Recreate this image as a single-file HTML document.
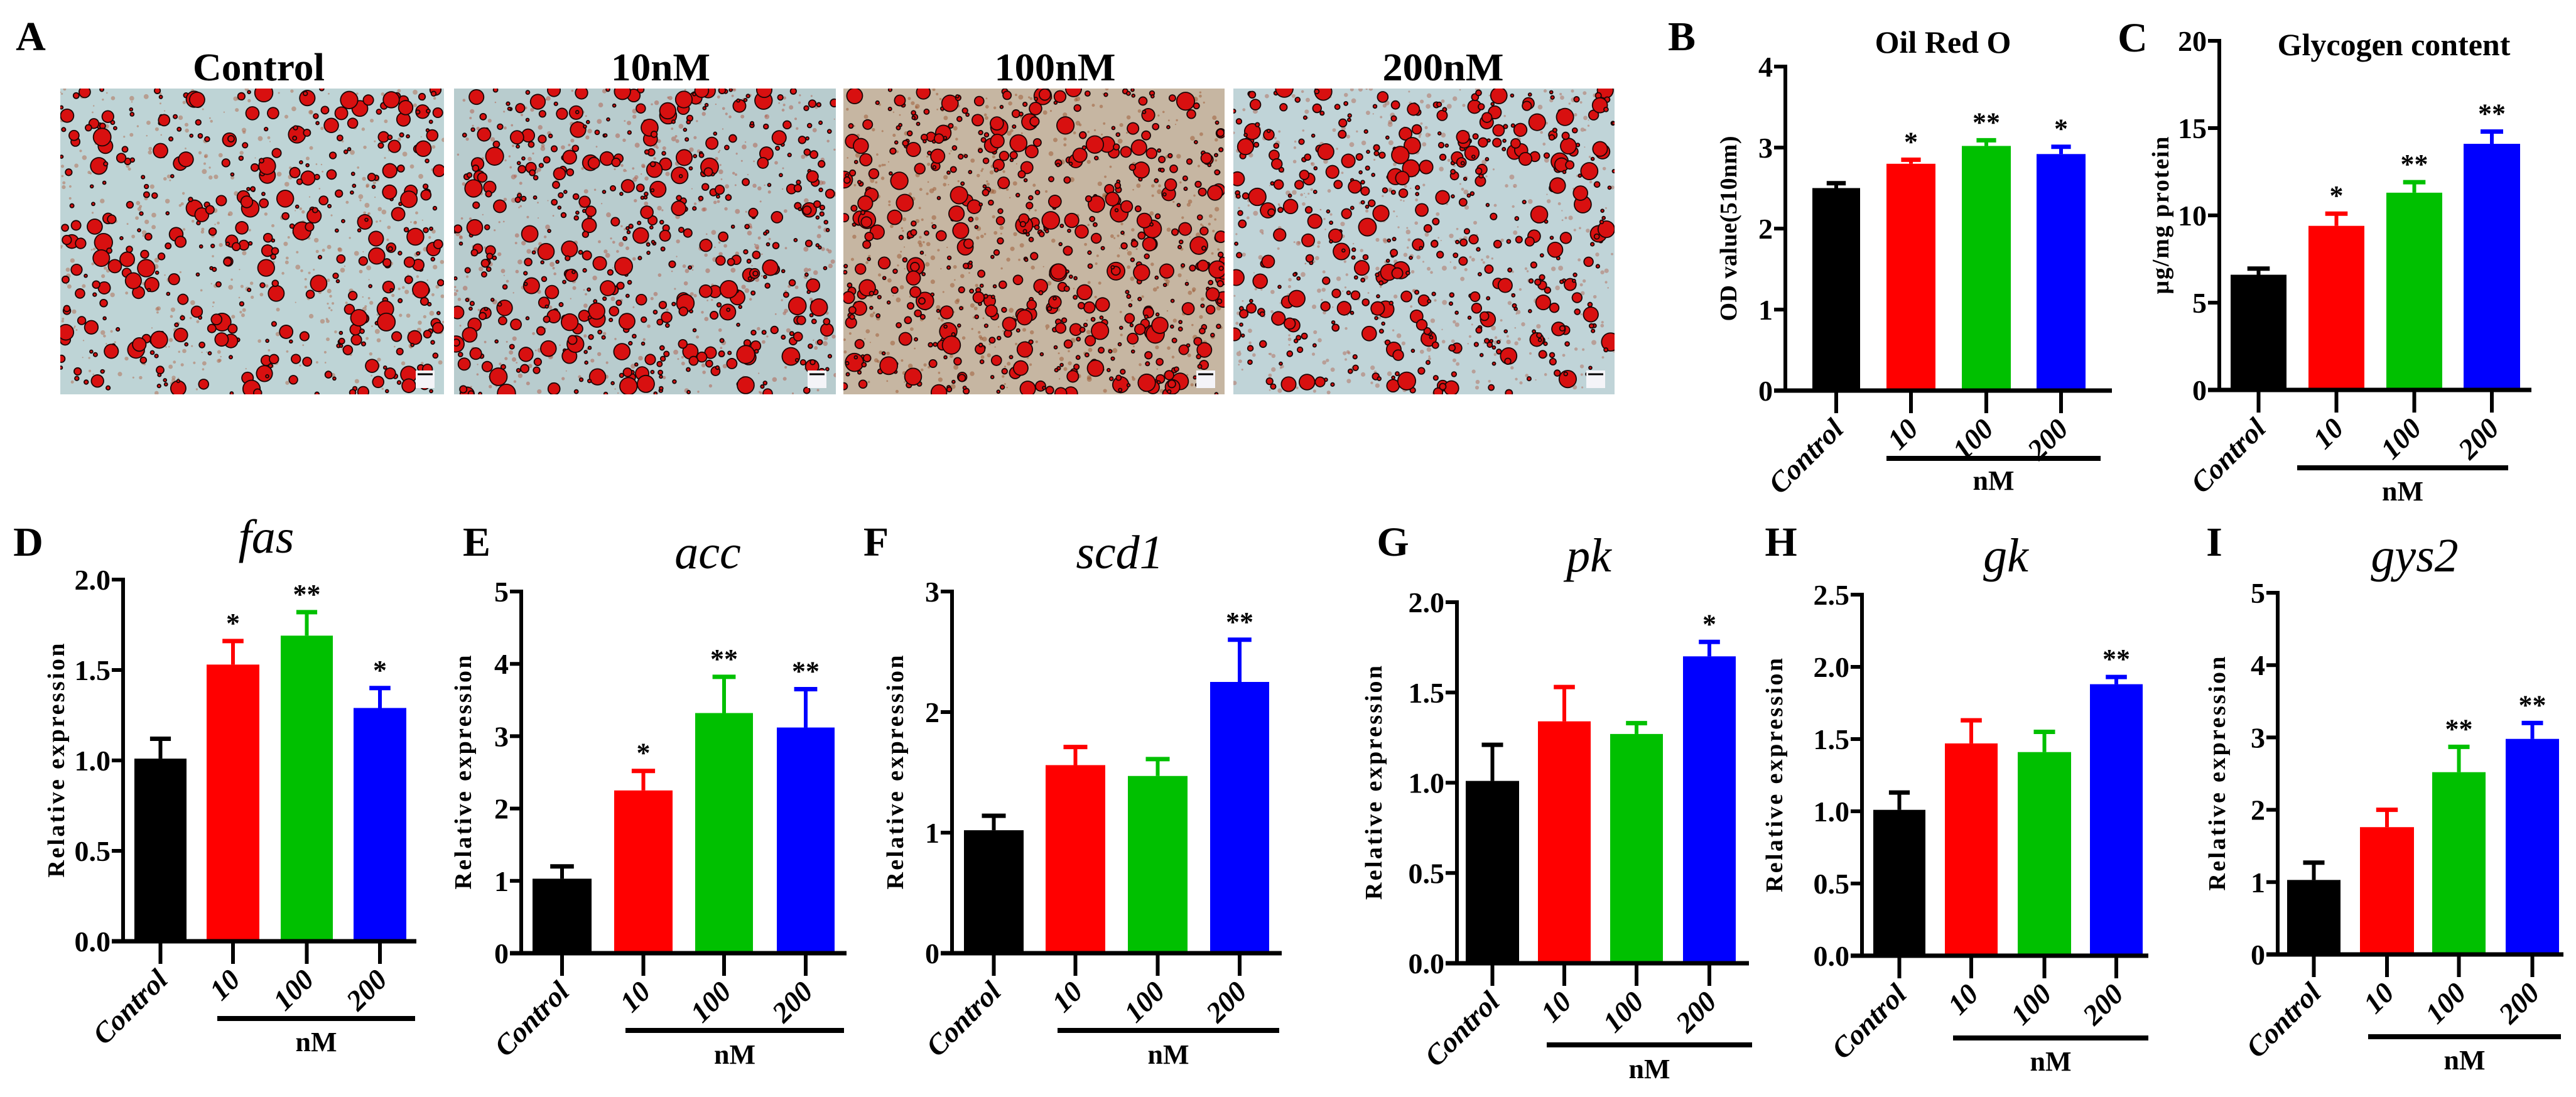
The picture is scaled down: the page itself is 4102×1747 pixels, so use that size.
<!DOCTYPE html>
<html><head><meta charset="utf-8"><style>
html,body{margin:0;padding:0;background:#fff;}
svg text{font-family:"Liberation Serif","Nimbus Roman","Tinos","Times New Roman",Times,"DejaVu Serif",serif;}
</style></head><body>
<svg id="fig" width="4102" height="1742" viewBox="0 0 4102 1742" xmlns="http://www.w3.org/2000/svg">
<defs>
<clipPath id="cp0"><rect x="96" y="141" width="611" height="487"/></clipPath>
<clipPath id="cp1"><rect x="723" y="141" width="608" height="487"/></clipPath>
<clipPath id="cp2"><rect x="1343" y="141" width="607" height="487"/></clipPath>
<clipPath id="cp3"><rect x="1964" y="141" width="607" height="487"/></clipPath>
</defs>
<g id="photos"></g>
<g id="charts"></g>
</svg>
<script>
const categories = ['Control','10','100','200'];
const colors = ['#000000','#ff0000','#00c000','#0000ff'];
const oilValues = [2.5, 2.8, 3.02, 2.92];
const oilErrors = [0.06, 0.05, 0.07, 0.09];
const oilStars = ['', '*', '**', '*'];
const glyValues = [6.6, 9.4, 11.3, 14.1];
const glyErrors = [0.35, 0.7, 0.6, 0.7];
const glyStars = ['', '*', '**', '**'];
const fasValues = [1.01, 1.53, 1.69, 1.29];
const fasErrors = [0.11, 0.13, 0.13, 0.11];
const fasStars = ['', '*', '**', '*'];
const accValues = [1.03, 2.25, 3.32, 3.12];
const accErrors = [0.17, 0.27, 0.5, 0.53];
const accStars = ['', '*', '**', '**'];
const scdValues = [1.02, 1.56, 1.47, 2.25];
const scdErrors = [0.12, 0.15, 0.14, 0.35];
const scdStars = ['', '', '', '**'];
const pkValues = [1.01, 1.34, 1.27, 1.70];
const pkErrors = [0.2, 0.19, 0.06, 0.08];
const pkStars = ['', '', '', '*'];
const gkValues = [1.01, 1.47, 1.41, 1.88];
const gkErrors = [0.12, 0.16, 0.14, 0.05];
const gkStars = ['', '', '', '**'];
const gysValues = [1.03, 1.76, 2.52, 2.98];
const gysErrors = [0.24, 0.24, 0.35, 0.22];
const gysStars = ['', '', '**', '**'];
const oilTicks = ['0','1','2','3','4'];
const glyTicks = ['0','5','10','15','20'];
const fasTicks = ['0.0','0.5','1.0','1.5','2.0'];
const accTicks = ['0','1','2','3','4','5'];
const scdTicks = ['0','1','2','3'];
const pkTicks = ['0.0','0.5','1.0','1.5','2.0'];
const gkTicks = ['0.0','0.5','1.0','1.5','2.0','2.5'];
const gysTicks = ['0','1','2','3','4','5'];

const NS = 'http://www.w3.org/2000/svg';
function mk(parent, tag, attrs, text){
  const e = document.createElementNS(NS, tag);
  for (const k in attrs) e.setAttribute(k, attrs[k]);
  if (text !== undefined) e.textContent = text;
  parent.appendChild(e);
  return e;
}
const root = document.getElementById('charts');

const letters = [['A',49,80],['B',2678,80],['C',3396,82],['D',45,885],['E',759,885],['F',1395,885],['G',2218,885],['H',2836,885],['I',3526,885]];
letters.forEach(l=>{
  const t = mk(root,'text',{x:l[1],y:l[2],'font-size':66,'font-weight':'bold','text-anchor':'middle'},l[0]);
  
  
});

[['Control',412,210],['10nM',1052,158],['100nM',1680,193],['200nM',2298,193]].forEach(p=>{
  const t = mk(root,'text',{x:p[1],y:128,'font-size':62,'font-weight':'bold','text-anchor':'middle',textLength:p[2],lengthAdjust:'spacingAndGlyphs'},p[0]);
  
  
});

const panels = [
 {id:'oil', vals:oilValues, errs:oilErrors, stars:oilStars, ticks:oilTicks, max:4, ax:2843, y0:622, yTop:106, xEnd:3363, bars:[[2886,2962],[3004,3082],[3124,3202],[3243,3321]], title:'Oil Red O', titleX:3094, titleY:84, italic:false, titleSize:50, ytitle:'OD value(510nm)', ytl:295, ytx:2765, nm:[3004,3345,730], nmY:780},
 {id:'glycogen', vals:glyValues, errs:glyErrors, stars:glyStars, ticks:glyTicks, max:20, ax:3534, y0:621, yTop:65, xEnd:4031, bars:[[3552,3641],[3676,3765],[3800,3889],[3923,4013]], title:'Glycogen content', titleX:3812, titleY:88, italic:false, titleSize:50, ytitle:'\u03bcg/mg protein', ytl:251, ytx:3453, nm:[3658,3994,745], nmY:797},
 {id:'fas', vals:fasValues, errs:fasErrors, stars:fasStars, ticks:fasTicks, max:2, ax:196, y0:1499, yTop:923, xEnd:663, bars:[[214,297],[329,413],[447,530],[563,647]], title:'fas', titleX:424, titleY:880, italic:true, titleSize:76, ytitle:'Relative expression', ytl:373, ytx:102, nm:[346,661,1622], nmY:1674},
 {id:'acc', vals:accValues, errs:accErrors, stars:accStars, ticks:accTicks, max:5, ax:830, y0:1518, yTop:942, xEnd:1348, bars:[[848,942],[978,1071],[1107,1199],[1237,1329]], title:'acc', titleX:1127, titleY:905, italic:true, titleSize:76, ytitle:'Relative expression', ytl:373, ytx:750, nm:[996,1344,1641], nmY:1694},
 {id:'scd1', vals:scdValues, errs:scdErrors, stars:scdStars, ticks:scdTicks, max:3, ax:1516, y0:1518, yTop:942, xEnd:2041, bars:[[1535,1630],[1665,1760],[1796,1891],[1927,2021]], title:'scd1', titleX:1783, titleY:905, italic:true, titleSize:76, ytitle:'Relative expression', ytl:373, ytx:1438, nm:[1684,2037,1641], nmY:1694},
 {id:'pk', vals:pkValues, errs:pkErrors, stars:pkStars, ticks:pkTicks, max:2, ax:2320, y0:1534, yTop:959, xEnd:2785, bars:[[2334,2419],[2449,2533],[2564,2648],[2680,2764]], title:'pk', titleX:2530, titleY:910, italic:true, titleSize:76, ytitle:'Relative expression', ytl:373, ytx:2200, nm:[2463,2790,1664], nmY:1717},
 {id:'gk', vals:gkValues, errs:gkErrors, stars:gkStars, ticks:gkTicks, max:2.5, ax:2965, y0:1522, yTop:947, xEnd:3421, bars:[[2983,3066],[3097,3181],[3213,3298],[3328,3412]], title:'gk', titleX:3194, titleY:910, italic:true, titleSize:76, ytitle:'Relative expression', ytl:373, ytx:2838, nm:[3110,3421,1653], nmY:1705},
 {id:'gys2', vals:gysValues, errs:gysErrors, stars:gysStars, ticks:gysTicks, max:5, ax:3627, y0:1520, yTop:944, xEnd:4082, bars:[[3642,3727],[3758,3844],[3873,3958],[3990,4075]], title:'gys2', titleX:3845, titleY:910, italic:true, titleSize:76, ytitle:'Relative expression', ytl:373, ytx:3543, nm:[3771,4078,1651], nmY:1703}
];

panels.forEach(p=>{
  const g = mk(root,'g',{});
  
  
  const yScale = v => p.y0 - (v / p.max) * (p.y0 - p.yTop);
  const tt = mk(g,'text',{x:p.titleX,y:p.titleY,'font-size':p.titleSize,'font-weight':p.italic?'normal':'bold','font-style':p.italic?'italic':'normal','text-anchor':'middle'},p.title);
  
  
  p.bars.forEach((b,i)=>{
    const x1=b[0], x2=b[1], cx=(x1+x2)/2, w=x2-x1;
    const top = yScale(p.vals[i]);
    const et = yScale(p.vals[i]+p.errs[i]);
    const col = colors[i];
    const r = mk(g,'rect',{x:x1,y:top,width:w,height:p.y0-top,fill:col});
    
    
    const el = mk(g,'line',{x1:cx,x2:cx,y1:top,y2:et,stroke:col,'stroke-width':6});
    
    
    const cap = mk(g,'line',{x1:cx-w*0.2,x2:cx+w*0.2,y1:et,y2:et,stroke:col,'stroke-width':7});
    
    
    if (p.stars[i]) {
      const s = mk(g,'text',{x:cx,y:et-14,'font-size':44,'font-weight':'bold','text-anchor':'middle'},p.stars[i]);
      
      
    }
    const tk = mk(g,'line',{x1:cx,x2:cx,y1:p.y0,y2:p.y0+36,stroke:'#000','stroke-width':6});
    
    
    const lx = cx+14, ly = p.y0+64;
    const lab = mk(g,'text',{x:lx,y:ly,'font-size':46,'font-weight':'bold','font-style':'italic','text-anchor':'end',transform:'rotate(-45 '+lx+' '+ly+')'},categories[i]);
    
    
  });
  const ya = mk(g,'line',{x1:p.ax,x2:p.ax,y1:p.yTop-3,y2:p.y0+3,stroke:'#000','stroke-width':6});
  
  
  const xa = mk(g,'line',{x1:p.ax-18,x2:p.xEnd,y1:p.y0,y2:p.y0,stroke:'#000','stroke-width':7});
  
  
  p.ticks.forEach((lbl,k)=>{
    const v = p.max * k / (p.ticks.length-1);
    const y = yScale(v);
    const t = mk(g,'line',{x1:p.ax-18,x2:p.ax,y1:y,y2:y,stroke:'#000','stroke-width':6});
    
    
    const tl = mk(g,'text',{x:p.ax-20,y:y+16,'font-size':46,'font-weight':'bold','text-anchor':'end'},lbl);
    
    
  });
  const ymid = (p.y0+p.yTop)/2;
  const yt = mk(g,'text',{x:p.ytx,y:ymid,'font-size':38,'font-weight':'bold','text-anchor':'middle',textLength:p.ytl,lengthAdjust:'spacing',transform:'rotate(-90 '+p.ytx+' '+ymid+')'},p.ytitle);
  
  
  const nl = mk(g,'line',{x1:p.nm[0],x2:p.nm[1],y1:p.nm[2],y2:p.nm[2],stroke:'#000','stroke-width':8});
  
  
  const nt = mk(g,'text',{x:(p.nm[0]+p.nm[1])/2,y:p.nmY,'font-size':44,'font-weight':'bold','text-anchor':'middle'},'nM');
  
  
});

const photoRoot = document.getElementById('photos');
const photos = [
  {x:96,w:611,bg:'#bed4d6',tint:'#b0684c',n:420},
  {x:723,w:608,bg:'#b8ccce',tint:'#b05a48',n:520},
  {x:1343,w:607,bg:'#c6b6a2',tint:'#9c5530',n:600},
  {x:1964,w:607,bg:'#c0d4d8',tint:'#b06a58',n:460}
];
let seed = 12345;
function rnd(){ seed = (seed*1103515245 + 12345) % 2147483648; return seed/2147483648; }
photos.forEach((ph,i)=>{
  const g = mk(photoRoot,'g',{'clip-path':'url(#cp'+i+')'});
  
  
  mk(g,'rect',{x:ph.x,y:141,width:ph.w,height:487,fill:ph.bg});
  for(let k=0;k<500;k++){
    mk(g,'circle',{cx:ph.x+rnd()*ph.w,cy:141+rnd()*487,r:1+rnd()*3,fill:ph.tint,opacity:0.5});
  }
  for(let k=0;k<ph.n;k++){
    const r = 1.5+Math.pow(rnd(),2.6)*12;
    const cx = ph.x+rnd()*ph.w, cy = 141+rnd()*487;
    mk(g,'circle',{cx:cx,cy:cy,r:r+1.8,fill:'#1a0606'});
    mk(g,'circle',{cx:cx,cy:cy,r:r,fill:'#d81010'});
  }
  mk(g,'rect',{x:ph.x+ph.w-45,y:590,width:30,height:28,fill:'#f4f4f8'});
  mk(g,'line',{x1:ph.x+ph.w-42,x2:ph.x+ph.w-18,y1:596,y2:596,stroke:'#000','stroke-width':3});
});
</script>
</body></html>
